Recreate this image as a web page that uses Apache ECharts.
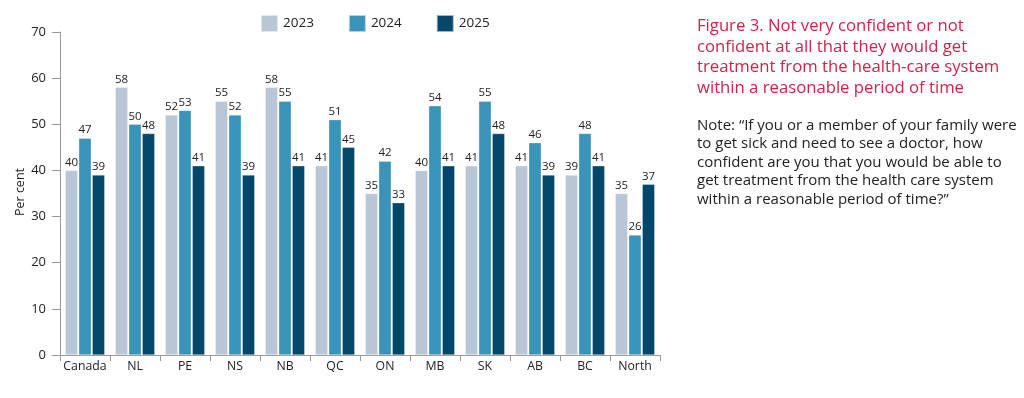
<!DOCTYPE html>
<html><head><meta charset="utf-8">
<script src="https://cdn.jsdelivr.net/npm/echarts@6/dist/echarts.min.js"></script>
<style>
html,body{margin:0;padding:0;background:#fff;}
#c{position:absolute;left:0;top:0;width:1024px;height:398px;}
</style></head><body>
<div id="c"></div>
<script>
const categories = ['Canada','NL','PE','NS','NB','QC','ON','MB','SK','AB','BC','North'];
const seriesNames = ['2023','2024','2025'];
const values2023 = [40,58,52,55,58,41,35,40,41,41,39,35];
const values2024 = [47,50,53,52,55,51,42,54,55,46,48,26];
const values2025 = [39,48,41,39,41,45,33,41,48,39,41,37];
const yTicks = [0,10,20,30,40,50,60,70];
const yAxisName = 'Per cent';
const titleLines = ['Figure 3. Not very confident or not','confident at all that they would get','treatment from the health-care system','within a reasonable period of time'];
const noteLines = ['Note: \u201cIf you or a member of your family were','to get sick and need to see a doctor, how','confident are you that you would be able to','get treatment from the health care system','within a reasonable period of time?\u201d'];

const colors = ['#b9c6d6','#3a93b9','#03486a'];
const font = '"Open Sans", sans-serif';
const chart = echarts.init(document.getElementById('c'));
const data = [values2023, values2024, values2025];
chart.setOption({
  animation:false,
  textStyle:{fontFamily:font},
  legend:{
    top:9, left:255, itemWidth:17, itemHeight:17, itemGap:34,
    data:seriesNames,
    textStyle:{fontSize:13.5, color:'#222', fontFamily:font, padding:[4,0,0,0]},
    icon:'rect'
  },
  grid:{left:60, right:364, top:32, bottom:43},
  graphic:[
    {type:'text', left:697, top:16, style:{text:titleLines.join('\n'), fill:'#d6204a', font:'16.7px '+font, lineHeight:20.5}},
    {type:'text', left:697, top:116, style:{text:noteLines.join('\n'), fill:'#222', font:'15px '+font, lineHeight:18.5}},
    {type:'text', x:20, y:192, rotation:Math.PI/2, style:{text:yAxisName, fill:'#222', font:'12.5px '+font, align:'center', verticalAlign:'middle'}}
  ],
  xAxis:{
    type:'category', data:categories,
    axisLine:{lineStyle:{color:'#999'}},
    axisTick:{show:true, alignWithLabel:false, length:6, lineStyle:{color:'#999'}},
    axisLabel:{color:'#222', fontSize:12.3, margin:5, interval:0, fontFamily:font}
  },
  yAxis:{
    type:'value', min:0, max:70, interval:10,
    axisLine:{show:true, lineStyle:{color:'#999'}},
    axisTick:{show:true, length:8, lineStyle:{color:'#999'}},
    axisLabel:{color:'#222', fontSize:13, margin:14, fontFamily:font},
    splitLine:{show:false}
  },
  series: seriesNames.map((n,i)=>({
    name:n, type:'bar', data:data[i],
    barWidth:12.5, barGap:'8%', barCategoryGap:'24%',
    itemStyle:{color:colors[i], borderColor:'rgba(255,255,255,0.6)', borderWidth:0.5},
    label:{show:true, position:'top', distance:2, color:'#222', fontSize:11.5, fontFamily:font}
  }))
});
</script>
</body></html>
